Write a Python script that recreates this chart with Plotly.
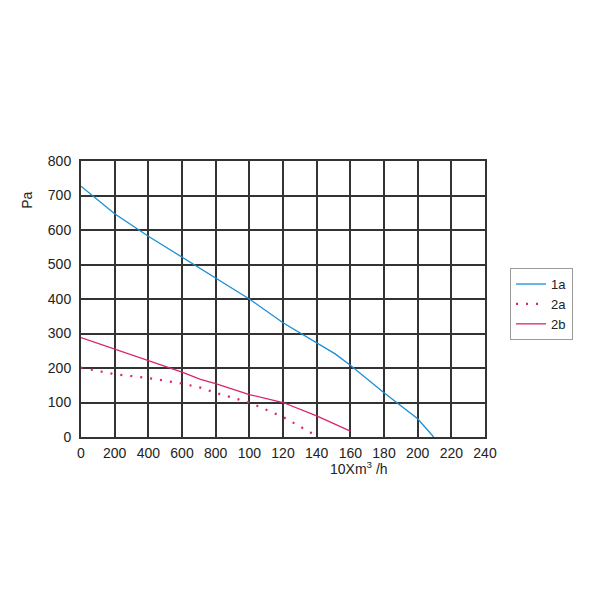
import plotly.graph_objects as go

# Data (x in chart units 0..240, y in Pa)
x_1a = [0, 20, 40, 60, 80, 100, 120, 140, 151, 160, 180, 200, 209.5]
y_1a = [727, 647, 582, 522, 461, 400, 331, 273, 241, 208, 128, 53, 0]

x_2a = [0, 20, 40, 60, 71, 80, 100, 120, 140]
y_2a = [201, 182, 171, 155, 143, 128, 100, 58, 3]

x_2b = [0, 20, 40, 60, 71, 80, 100, 120, 140, 160]
y_2b = [288, 254, 222, 188, 167, 155, 123, 100, 61, 17]

x_tickvals = [0, 20, 40, 60, 80, 100, 120, 140, 160, 180, 200, 220, 240]
x_ticktext = ["0", "200", "400", "600", "800", "100", "120", "140", "160", "180", "200", "220", "240"]
y_tickvals = [0, 100, 200, 300, 400, 500, 600, 700, 800]

blue = "#1a8fd2"
magenta = "#d8246f"

fig = go.Figure()
fig.add_trace(go.Scatter(x=x_1a, y=y_1a, mode="lines", name="1a",
                         line=dict(color=blue, width=1.3)))
fig.add_trace(go.Scatter(x=x_2a, y=y_2a, mode="lines", name="2a",
                         line=dict(color=magenta, width=2.2, dash="2px,8px")))
fig.add_trace(go.Scatter(x=x_2b, y=y_2b, mode="lines", name="2b",
                         line=dict(color=magenta, width=1.3)))

grid_col = "#333333"
fig.update_layout(
    width=600, height=600,
    margin=dict(l=73, r=123, t=153, b=171),
    paper_bgcolor="white", plot_bgcolor="white",
    font=dict(family="Liberation Sans, Arial, sans-serif", size=13, color="#222"),
    xaxis=dict(range=[0, 240], tickvals=x_tickvals, ticktext=x_ticktext,
               showgrid=True, gridcolor=grid_col, gridwidth=2,
               showline=True, linecolor=grid_col, linewidth=2, mirror=True,
               zeroline=False, ticks="", tickfont=dict(size=14),
               ticklabelstandoff=2),
    yaxis=dict(range=[0, 800], tickvals=y_tickvals,
               showgrid=True, gridcolor=grid_col, gridwidth=2,
               showline=True, linecolor=grid_col, linewidth=2, mirror=True,
               zeroline=False, ticks="", tickfont=dict(size=14),
               ticklabelstandoff=5),
    legend=dict(x=1.062, y=0.612, xanchor="left", yanchor="top",
                bordercolor="#999", borderwidth=1, bgcolor="white",
                font=dict(size=13), itemwidth=30, tracegroupgap=0),
    showlegend=True,
)
fig.add_annotation(text="Pa", xref="paper", yref="paper", x=-0.134, y=0.859,
                   xanchor="center", yanchor="middle",
                   showarrow=False, textangle=-90, font=dict(size=14))
fig.add_annotation(text="10Xm<sup>3</sup> /h", xref="paper", yref="paper",
                   x=0.688, y=-0.112, xanchor="center", yanchor="middle",
                   showarrow=False, font=dict(size=14))

fig.write_html("out.html")
